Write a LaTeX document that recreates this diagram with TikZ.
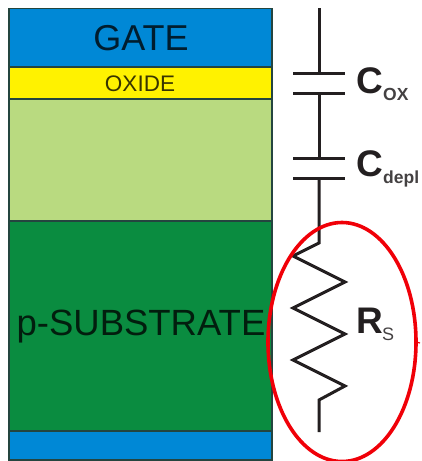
\documentclass[tikz,border=0pt]{standalone}
\usepackage{fontspec}
\usetikzlibrary{shapes.geometric}
\setmainfont{Liberation Sans}
\definecolor{gateblue}{HTML}{0088D6}
\definecolor{oxyellow}{HTML}{FFF200}
\definecolor{depgreen}{HTML}{B9DA80}
\definecolor{subgreen}{HTML}{0A8C40}
\definecolor{edgecol}{HTML}{24453F}
\definecolor{wirecol}{HTML}{231F20}
\definecolor{ellred}{HTML}{F00008}
\tikzset{
  layerbox/.style={draw=edgecol,line width=1.2pt,anchor=north west,inner sep=0pt,minimum width=263pt,outer sep=0pt},
  wire/.style={draw=wirecol,line width=3pt,line join=miter},
  lbl/.style={inner sep=0pt,anchor=base west,text=wirecol},
  layertext/.style={inner sep=0pt,anchor=base,text=black,text opacity=.78},
  bigsym/.style={lbl,font=\fontsize{37}{37}\selectfont\bfseries},
  subsym/.style={lbl,font=\fontsize{17.5}{17.5}\selectfont\bfseries,text=wirecol!85!white},
}
\begin{document}
\begin{tikzpicture}[x=1pt,y=-1pt]
\useasboundingbox (0,0) rectangle (421,461);
% layers
\node[layerbox,fill=gateblue,minimum height=58.5pt] (gate) at (9,8.5) {};
\node[layerbox,fill=oxyellow,minimum height=32pt] (oxide) at (9,67) {};
\node[layerbox,fill=depgreen,minimum height=122pt] (depl) at (9,99) {};
\node[layerbox,fill=subgreen,minimum height=210pt] (sub) at (9,221) {};
\node[layerbox,fill=gateblue,minimum height=29pt] (back) at (9,431) {};
\node[layertext,font=\fontsize{36}{36}\selectfont] (tgate) at (141,50) {GATE};
\node[layertext,font=\fontsize{22.5}{22.5}\selectfont] (tox) at (140,91) {OXIDE};
\node[layertext,font=\fontsize{36.5}{36.5}\selectfont] (tsub) at (141,335) {p-SUBSTRATE};
% circuit points
\coordinate (top) at (319,8);
\coordinate (c1a) at (319,73);
\coordinate (c1b) at (319,93);
\coordinate (c2a) at (319,158);
\coordinate (c2b) at (319,178);
\coordinate (r0) at (319,243);
\coordinate (r1) at (293,256);
\coordinate (r2) at (345,282);
\coordinate (r3) at (293,308);
\coordinate (r4) at (345,334);
\coordinate (r5) at (293,360);
\coordinate (r6) at (345,386);
\coordinate (r7) at (319,400);
\coordinate (bot) at (319,432);
\coordinate (p1l) at (293,73); \coordinate (p1r) at (345,73);
\coordinate (p2l) at (293,93); \coordinate (p2r) at (345,93);
\coordinate (p3l) at (293,158); \coordinate (p3r) at (345,158);
\coordinate (p4l) at (293,178); \coordinate (p4r) at (345,178);
\draw[wire] (top) -- (c1a);
\draw[wire] (p1l) -- (p1r);
\draw[wire] (p2l) -- (p2r);
\draw[wire] (c1b) -- (c2a);
\draw[wire] (p3l) -- (p3r);
\draw[wire] (p4l) -- (p4r);
\draw[wire] (c2b) -- (r0) -- (r1) -- (r2) -- (r3) -- (r4) -- (r5) -- (r6) -- (r7) -- (bot);
% labels
\node[bigsym] (lc1) at (356,93) {C};
\node[subsym] (lox) at (383,100) {OX};
\node[bigsym] (lc2) at (356,176) {C};
\node[subsym] (ldepl) at (383,183) {depl};
\node[bigsym] (lr) at (356,333) {R};
\node[subsym,font=\fontsize{18}{18}\selectfont] (ls) at (382,340) {S};
% highlight
\node[draw=ellred,line width=3.6pt,ellipse,minimum width=148pt,minimum height=239pt,inner sep=0pt,outer sep=0pt] (ring) at (342,342) {};
\coordinate (tick) at (420,343);
\draw[draw=ellred,line width=1.2pt] (ring.east) -- (tick);
\end{tikzpicture}
\end{document}
